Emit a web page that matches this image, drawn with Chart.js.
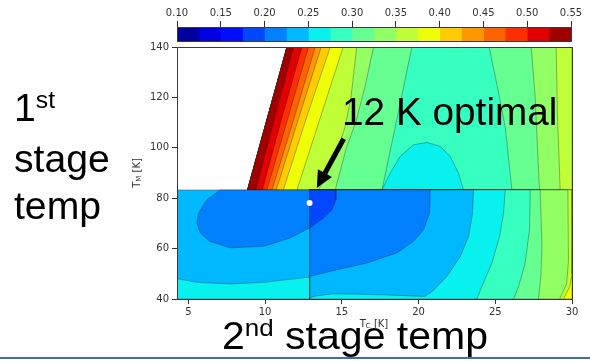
<!DOCTYPE html>
<html>
<head>
<meta charset="utf-8">
<script src="https://cdn.jsdelivr.net/npm/chart.js@4.4.1/dist/chart.umd.min.js"></script>
<style>
  body { margin: 0; background: #fff; }
  #wrap { position: relative; width: 590px; height: 361px; overflow: hidden; font-family: "Liberation Sans", Arial, sans-serif; }
  canvas { position: absolute; left: 0; top: 0; }
  .big { position: absolute; font-size: 38px; color: #000; white-space: nowrap; transform-origin: 0 0; }
  .sup { font-size: 24px; position: relative; top: -13px; }
  .axt { position: absolute; font: 10px "DejaVu Sans", sans-serif; color: #333; white-space: nowrap; transform: translate(-50%, -50%); }
  .axt sub { font-size: 7px; vertical-align: -1px; }
  #rule { position: absolute; left: 0; top: 357px; width: 590px; height: 2px; background: #3f6fa6; }
</style>
</head>
<body>
<div id="wrap">
  <canvas id="plot" width="590" height="361"></canvas>
  <canvas id="cbar" width="590" height="45"></canvas>
  <div class="big" style="left:14px;top:85px;line-height:47px;transform:scaleX(1.03)">1<span class="sup">st</span><br>stage<br>temp</div>
  <div class="big" style="left:342px;top:93px;line-height:38px;transform:scaleX(1.02)">12 K optimal</div>
  <div class="big" style="left:222px;top:317px;line-height:38px;transform:scaleX(1.08)">2<span class="sup">nd</span> stage temp</div>
  <div class="axt" style="left:137px;top:173px;transform:translate(-50%,-50%) rotate(-90deg)">T<sub>M</sub> [K]</div>
  <div class="axt" style="left:374px;top:324px">T<sub>C</sub> [K]</div>
  <div id="rule"></div>
</div>
<script>
// colour bar: contour level edges and the labels above it
var levelEdges = [0.100, 0.125, 0.150, 0.175, 0.200, 0.225, 0.250, 0.275, 0.300, 0.325,
                  0.350, 0.375, 0.400, 0.425, 0.450, 0.475, 0.500, 0.525, 0.550];
var barTicks = [0.10, 0.15, 0.20, 0.25, 0.30, 0.35, 0.40, 0.45, 0.50, 0.55];

// axes, kelvin (T_C = 2nd stage, T_M = 1st stage)
var tcRange = [4.26, 30];
var tmRange = [40, 140];
var tcTicks = [5, 10, 15, 20, 25, 30];
var tmTicks = [40, 60, 80, 100, 120, 140];

// the map is made of three pieces
var tmSplit = 83.3;   // upper / lower
var tcSplit = 12.9;   // lower-left / lower-right

// upper piece: nothing left of this edge  [Tc, TM]
var upperEdge = [[8.86, 83.3], [11.43, 140]];
// contours near the edge, value rising toward it (top -> bottom)
var upperLeftLevels = [0.300, 0.325, 0.350, 0.375, 0.400, 0.425, 0.450, 0.475, 0.500, 0.525];
var upperLeftLines = [
  [[19.57, 140], [17.62, 83.3]],
  [[17.07, 140], [16.5, 124], [15.9, 110], [15.3, 100], [14.57, 83.3]],
  [[15.97, 140], [15.6, 120], [15.2, 108], [14.6, 97], [13.48, 83.3]],
  [[15.09, 140], [13.6, 112], [12.08, 83.3]],
  [[14.25, 140], [12.7, 112], [11.19, 83.3]],
  [[13.66, 140], [12.2, 112], [10.73, 83.3]],
  [[13.27, 140], [11.9, 112], [10.45, 83.3]],
  [[12.83, 140], [11.5, 112], [10.12, 83.3]],
  [[12.40, 140], [11.1, 112], [9.82, 83.3]],
  [[11.86, 140], [10.62, 112], [9.39, 83.3]]
];
// contours on the right side, value rising to the right (top -> bottom)
var upperRightLevels = [0.300, 0.325, 0.350];
var upperRightLines = [
  [[24.6, 140], [25.1, 125.3], [25.65, 108.2], [26.08, 83.3]],
  [[27.34, 140], [27.6, 120], [27.75, 100], [27.88, 83.3]],
  [[28.97, 140], [29.05, 113], [29.23, 83.3]]
];
// 0.275 contour, low values inside
var upperBump = [[17.62, 83.3], [18.16, 90], [18.81, 96.6], [19.67, 101.2], [20.55, 102.1],
                 [21.41, 100.6], [22.06, 96.6], [22.6, 90], [22.93, 83.3]];

// lower-right piece, low values toward the split (top -> end)
var lowerRightLevels = [0.375, 0.350, 0.325, 0.300, 0.275, 0.250, 0.225, 0.200];
var lowerRightLines = [
  [[30, 50], [29.85, 45], [29.45, 40]],
  [[29.73, 83.3], [29.77, 55], [29.65, 46], [29.2, 40]],
  [[27.93, 83.3], [28.04, 61], [27.97, 49], [27.82, 40]],
  [[27.28, 83.3], [27.23, 67.5], [26.95, 54.3], [26.52, 45], [26.19, 40]],
  [[25.65, 83.3], [25.54, 74.1], [25.28, 64.8], [24.78, 54.3], [24.13, 45], [23.8, 40]],
  [[23.58, 83.3], [23.52, 74.1], [23.26, 64.8], [22.72, 56.9], [21.85, 49], [20.9, 43], [20.4, 41],
   [18, 41.6], [15.5, 42], [14.3, 42], [13.3, 41.2], [12.9, 40.5]],
  [[20.76, 83.3], [20.72, 74.1], [20.33, 67.5], [19.67, 62.9], [18.59, 58.3], [16.64, 54.3], [14.46, 51.3], [12.9, 48.9]],
  [[14.62, 83.3], [14.62, 79.4], [14.36, 75.4], [13.81, 72.1], [12.9, 68.2]]
];

// lower-left piece
var lowerLeftLow = [[7.1, 83.3], [6.21, 79.4], [5.67, 74.1], [5.56, 70.2], [5.78, 66.2], [6.4, 62.9],
                    [7.73, 60.3], [9.9, 60.9], [11.63, 64.2], [12.9, 68.2]];   // 0.225, lower inside
var lowerLeftHigh = [[4.26, 48.1], [5.56, 46.6], [7.73, 46.0], [9.9, 46.6], [12.9, 48.7]];  // 0.25, higher below

var optimum = [12.9, 78.1];
var arrowFrom = [15.12, 103.6];
var arrowTo = [13.37, 84.0];

function jet(t) {
    function seg(p) {
        for (var k = 1; k < p.length; k++) {
            if (t <= p[k][0]) return p[k - 1][1] + (p[k][1] - p[k - 1][1]) * (t - p[k - 1][0]) / (p[k][0] - p[k - 1][0]);
        }
        return p[p.length - 1][1];
    }
    var r = seg([[0, 0], [0.35, 0], [0.66, 1], [0.89, 1], [1, 0.5]]);
    var g = seg([[0, 0], [0.125, 0], [0.375, 1], [0.64, 1], [0.91, 0], [1, 0]]);
    var b = seg([[0, 0.5], [0.11, 1], [0.34, 1], [0.65, 0], [1, 0]]);
    return 'rgb(' + Math.round(r * 255) + ',' + Math.round(g * 255) + ',' + Math.round(b * 255) + ')';
}
var nBands = levelEdges.length - 1;
function bandOf(lv) { return Math.round((lv - levelEdges[0]) / (levelEdges[1] - levelEdges[0])); }
function bandColor(i) { return jet((i + 0.5) / nBands); }

// filled areas, bottom first
var areas = [];
function area(pts, lv) { areas.push({ pts: pts, lv: lv }); }

area([upperEdge[0], [tcRange[1], tmSplit], [tcRange[1], tmRange[1]], upperEdge[1]], 0.275);
upperLeftLines.forEach(function (line, i) {
    area([upperEdge[0], upperEdge[1]].concat(line), upperLeftLevels[i]);
});
upperRightLines.forEach(function (line, i) {
    area(line.concat([[tcRange[1], tmSplit], [tcRange[1], tmRange[1]]]), upperRightLevels[i]);
});
area(upperBump, 0.25);

area([[tcSplit, tmRange[0]], [tcRange[1], tmRange[0]], [tcRange[1], tmSplit], [tcSplit, tmSplit]], 0.375);
lowerRightLines.forEach(function (line, i) {
    var pts = [[tcSplit, tmSplit]];
    if (line[0][0] === tcRange[1]) pts.push([tcRange[1], tmSplit]);
    pts = pts.concat(line);
    if (line[line.length - 1][1] === tmRange[0]) pts.push([tcSplit, tmRange[0]]);
    area(pts, lowerRightLevels[i] - 0.025);
});

area([[tcRange[0], tmRange[0]], [tcSplit, tmRange[0]], [tcSplit, tmSplit], [tcRange[0], tmSplit]], 0.225);
area([[tcRange[0], tmRange[0]]].concat(lowerLeftHigh, [[tcSplit, tmRange[0]]]), 0.25);
area(lowerLeftLow.concat([[tcSplit, tmSplit]]), 0.2);

var datasets = areas.map(function (a, i) {
    var pts = a.pts.concat([a.pts[0]]);
    return {
        data: pts.map(function (p) { return { x: p[0], y: p[1] }; }),
        backgroundColor: bandColor(bandOf(a.lv)),
        borderColor: 'rgba(20,20,20,0.55)',
        borderWidth: 0.6,
        fill: 'shape',
        pointRadius: 0,
        tension: 0,
        order: areas.length - i + 1
    };
});
datasets.push({
    data: [{ x: optimum[0], y: optimum[1] }],
    showLine: false,
    pointRadius: 3,
    pointBackgroundColor: '#fff',
    pointBorderWidth: 0,
    order: 0
});

var frame = {
    id: 'frame',
    afterDatasetsDraw: function (chart) {
        var a = chart.chartArea, ctx = chart.ctx;
        ctx.save();
        ctx.strokeStyle = '#3a3a3a';
        ctx.lineWidth = 1;
        ctx.strokeRect(Math.round(a.left) + 0.5, Math.round(a.top) + 0.5, Math.round(a.right - a.left), Math.round(a.bottom - a.top));
        ctx.restore();
    }
};

var arrow = {
    id: 'arrow',
    afterDatasetsDraw: function (chart) {
        var x = chart.scales.x, y = chart.scales.y, ctx = chart.ctx;
        var x0 = x.getPixelForValue(arrowFrom[0]), y0 = y.getPixelForValue(arrowFrom[1]);
        var x1 = x.getPixelForValue(arrowTo[0]), y1 = y.getPixelForValue(arrowTo[1]);
        var ang = Math.atan2(y1 - y0, x1 - x0), head = 17, half = 8;
        var bx = x1 - head * Math.cos(ang), by = y1 - head * Math.sin(ang);
        ctx.save();
        ctx.strokeStyle = '#000';
        ctx.fillStyle = '#000';
        ctx.lineWidth = 5;
        ctx.beginPath();
        ctx.moveTo(x0, y0);
        ctx.lineTo(bx, by);
        ctx.stroke();
        ctx.beginPath();
        ctx.moveTo(x1, y1);
        ctx.lineTo(bx + half * Math.sin(ang), by - half * Math.cos(ang));
        ctx.lineTo(bx - half * Math.sin(ang), by + half * Math.cos(ang));
        ctx.closePath();
        ctx.fill();
        ctx.restore();
    }
};

var tickFont = { family: 'DejaVu Sans', size: 10 };

new Chart(document.getElementById('plot'), {
    type: 'line',
    data: { datasets: datasets },
    options: {
        responsive: false,
        animation: false,
        events: [],
        layout: { padding: { left: 0, top: 47, right: 18, bottom: 0 } },
        plugins: { legend: { display: false }, tooltip: { enabled: false } },
        scales: {
            x: {
                type: 'linear', min: tcRange[0], max: tcRange[1],
                afterBuildTicks: function (s) { s.ticks = tcTicks.map(function (v) { return { value: v }; }); },
                afterFit: function (s) { s.height = 62; },
                grid: { drawOnChartArea: false, tickLength: 5, color: '#333' },
                border: { display: false },
                ticks: { font: tickFont, color: '#333', padding: 2, maxRotation: 0 }
            },
            y: {
                type: 'linear', min: tmRange[0], max: tmRange[1],
                afterBuildTicks: function (s) { s.ticks = tmTicks.map(function (v) { return { value: v }; }); },
                afterFit: function (s) { s.width = 177; },
                grid: { drawOnChartArea: false, tickLength: 5, color: '#333' },
                border: { display: false },
                ticks: { font: tickFont, color: '#333', padding: 3 }
            }
        }
    },
    plugins: [frame, arrow]
});

// colour bar
var barSets = [];
for (var i = 0; i < nBands; i++) {
    barSets.push({
        data: [[levelEdges[i], levelEdges[i + 1]]],
        backgroundColor: bandColor(i),
        borderWidth: 0,
        barPercentage: 1,
        categoryPercentage: 1,
        grouped: false
    });
}
new Chart(document.getElementById('cbar'), {
    type: 'bar',
    data: { labels: [''], datasets: barSets },
    options: {
        indexAxis: 'y',
        responsive: false,
        animation: false,
        events: [],
        layout: { padding: { left: 177, top: 0, right: 19, bottom: 4 } },
        plugins: { legend: { display: false }, tooltip: { enabled: false } },
        scales: {
            x: {
                type: 'linear', position: 'top', min: levelEdges[0], max: levelEdges[nBands],
                afterBuildTicks: function (s) { s.ticks = barTicks.map(function (v) { return { value: v }; }); },
                afterFit: function (s) { s.height = 27; },
                grid: { drawOnChartArea: false, tickLength: 6, color: '#333' },
                border: { display: false },
                ticks: { font: tickFont, color: '#333', padding: 2, maxRotation: 0,
                         callback: function (v) { return v.toFixed(2); } }
            },
            y: { display: false }
        }
    },
    plugins: [frame]
});
</script>
</body>
</html>
